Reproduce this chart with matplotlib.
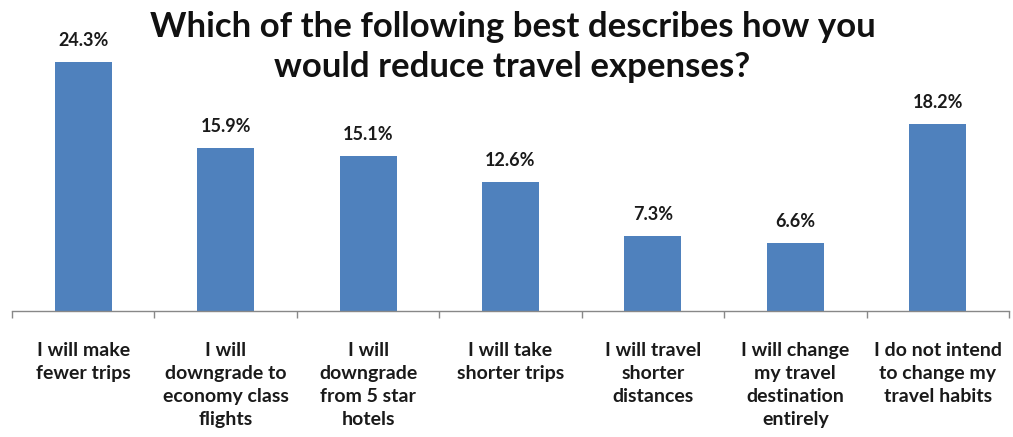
import numpy as np
import matplotlib.pyplot as plt

# survey answers and their shares (%)
categories = [
    "I will make\nfewer trips",
    "I will\ndowngrade to\neconomy class\nflights",
    "I will\ndowngrade\nfrom 5 star\nhotels",
    "I will take\nshorter trips",
    "I will travel\nshorter\ndistances",
    "I will change\nmy travel\ndestination\nentirely",
    "I do not intend\nto change my\ntravel habits",
]
shares = [24.3, 15.9, 15.1, 12.6, 7.3, 6.6, 18.2]

plt.rcParams["font.family"] = ["Lato", "DejaVu Sans"]

fig = plt.figure(figsize=(10.13, 4.37), dpi=100)
ax = fig.add_axes([12 / 1013, 126 / 437, 997 / 1013, 0.992 - 126 / 437])

x = np.arange(len(categories))
bars = ax.bar(x, shares, width=0.4, color="#4F81BD", zorder=2)

for b, v in zip(bars, shares):
    ax.text(b.get_x() + b.get_width() / 2, v + 1.3, f"{v:.1f}%",
            ha="center", va="bottom", fontsize=13, fontweight="bold",
            color="#1a1a1a")

ax.set_xlim(-0.5, len(categories) - 0.5)
ax.set_ylim(0, 30)
ax.set_yticks([])

# labels at bar centres, tick marks between categories
ax.set_xticks(x)
ax.set_xticklabels(categories, fontsize=14, fontweight="bold",
                   color="#1a1a1a", linespacing=1.45, va="top")
ax.tick_params(axis="x", which="major", length=0, pad=22)
ax.set_xticks(np.arange(-0.5, len(categories)), minor=True)
ax.tick_params(axis="x", which="minor", length=5, width=1, color="#888888")

for side in ["top", "right", "left"]:
    ax.spines[side].set_visible(False)
ax.spines["bottom"].set_color("#888888")
ax.spines["bottom"].set_linewidth(1)

fig.text(0.506, 0.975, "Which of the following best describes how you\nwould reduce travel expenses?",
         ha="center", va="top", fontsize=25, fontweight="bold",
         color="#111111", linespacing=1.3)

fig.savefig("out.png", dpi=100)
